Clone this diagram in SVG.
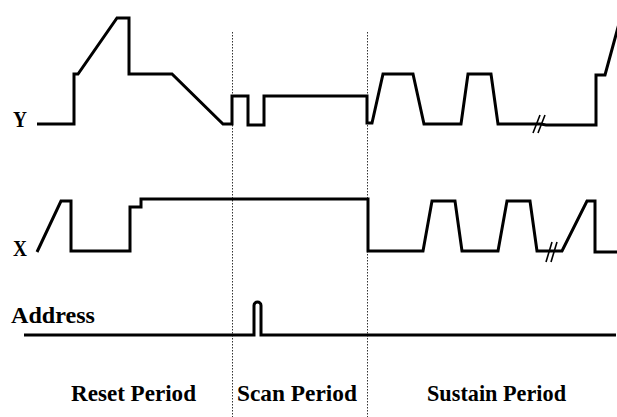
<svg xmlns="http://www.w3.org/2000/svg" width="617" height="417" viewBox="0 0 617 417">
<style>
.wave{fill:none;stroke:#000;stroke-width:3;stroke-linejoin:miter;stroke-miterlimit:4}
.brk{fill:none;stroke:#000;stroke-width:1.6}
.div{stroke:#333;stroke-width:1;stroke-dasharray:1.5,1.5;fill:none}
.lbl{font-family:"Liberation Serif","Times New Roman",serif;font-weight:bold;font-size:23px;fill:#000}
</style>
<rect width="617" height="417" fill="#fff"/>
<g id="dividers">
<line class="div" x1="232.5" y1="32" x2="232.5" y2="417"/>
<line class="div" x1="367.5" y1="32" x2="367.5" y2="417"/>
</g>
<g id="connectors">
<path id="wave-y" class="wave" d="M37,124 H74 V74 H78 L117,18 H129 V74 H172 L223,124 H232 V96 H248 V125 H264 V96 H367 V123 H372 L383,74 H413 L424,124 H461 L468,74 H491 L498,124 H541 L546,125 H596 V75 H605 L620,20"/>
<path class="brk" d="M533,133 L540,115 M538,133 L545,115"/>
<path id="wave-x" class="wave" d="M37,252 L61,201 H71 V251 H130 V207 H141 V199 H368 V251 H423 L432,201 H455 L462,251 H498 L507,201 H530 L537,251 H562 L587,201 H595 V252 H617"/>
<path class="brk" d="M546,262 L552,242 M551,262 L557,242"/>
<path id="wave-address" class="wave" d="M24,335 H254 V305.5 A3.5,3.5 0 0 1 261,305.5 V335 H616"/>
</g>
<g id="label-y"><text class="lbl" x="13" y="127" textLength="14" lengthAdjust="spacingAndGlyphs">Y</text></g>
<g id="label-x"><text class="lbl" x="13" y="256" textLength="14" lengthAdjust="spacingAndGlyphs">X</text></g>
<g id="label-address"><text class="lbl" x="11" y="323" textLength="84" lengthAdjust="spacingAndGlyphs">Address</text></g>
<g id="label-reset"><text class="lbl" x="71" y="401" textLength="125" lengthAdjust="spacingAndGlyphs">Reset Period</text></g>
<g id="label-scan"><text class="lbl" x="237" y="401" textLength="120" lengthAdjust="spacingAndGlyphs">Scan Period</text></g>
<g id="label-sustain"><text class="lbl" x="427" y="401" textLength="139" lengthAdjust="spacingAndGlyphs">Sustain Period</text></g>
</svg>
